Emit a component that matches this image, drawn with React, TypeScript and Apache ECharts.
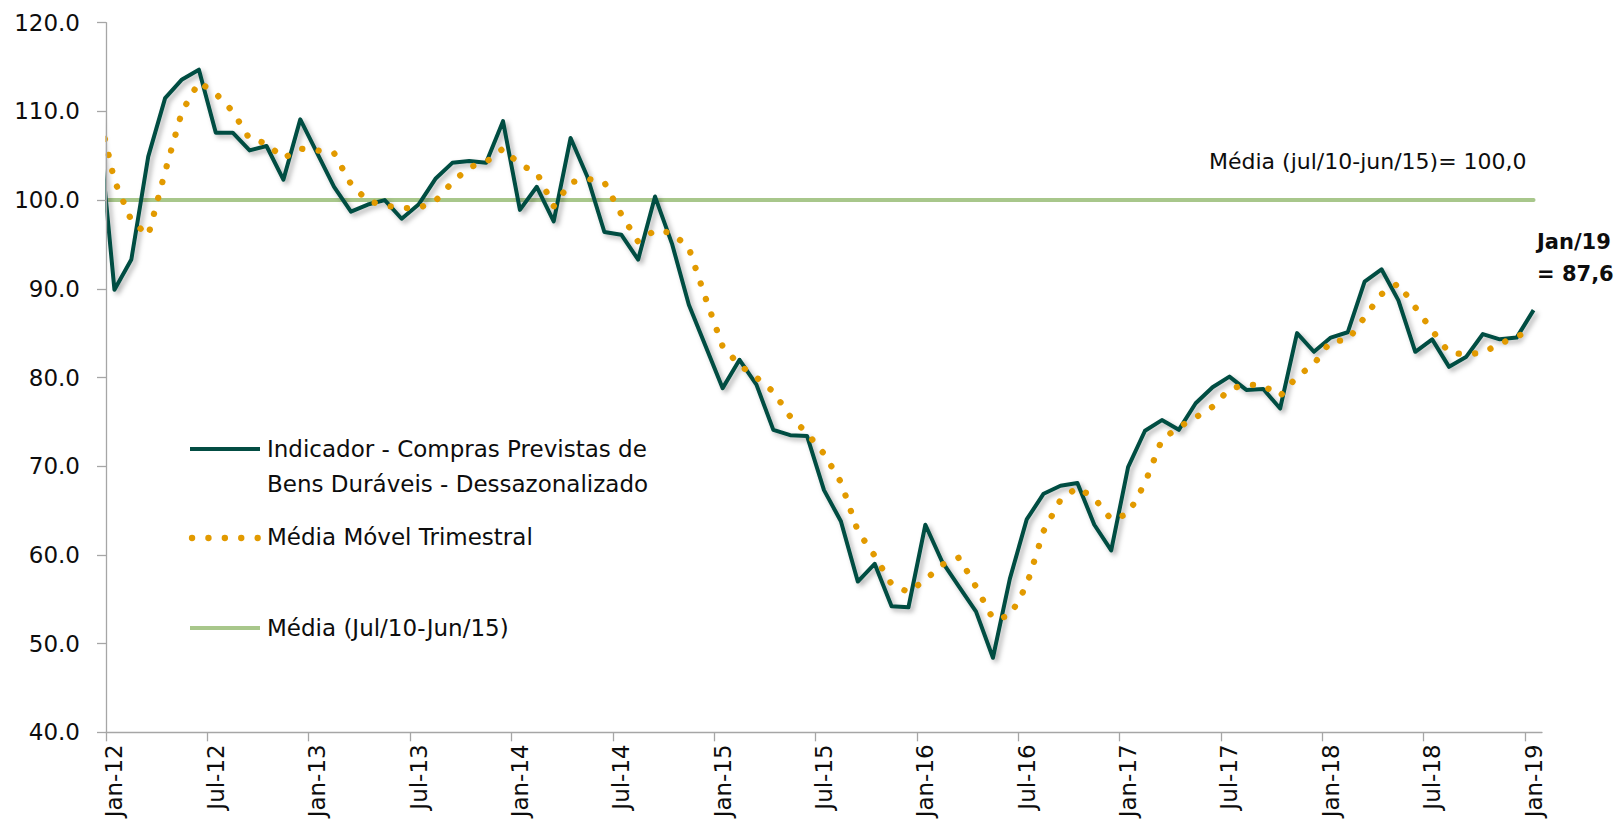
import React, { useEffect, useRef } from "react";
import * as echarts from "echarts";

// Months from Dec-11 (x = -1, outside the axis, clipped) to Jan-19 (x = 84)
const YEARS = ["12", "13", "14", "15", "16", "17", "18", "19"];
const MONTH_ABBR = ["Jan", "Feb", "Mar", "Apr", "May", "Jun", "Jul", "Aug", "Sep", "Oct", "Nov", "Dec"];
const CATEGORIES: string[] = [];
YEARS.forEach((y) => MONTH_ABBR.forEach((m) => CATEGORIES.push(`${m}-${y}`)));
CATEGORIES.length = 85; // Jan-12 .. Jan-19

const FIRST_X = -1; // Dec-11

const INDICATOR = [
  110.0, 89.9, 93.3, 104.9, 111.5, 113.6, 114.7, 107.6, 107.6, 105.6, 106.1, 102.3, 109.1,
  105.3, 101.5, 98.7, 99.5, 100.0, 97.9, 99.5, 102.4, 104.2, 104.4, 104.2, 108.9,
  98.9, 101.5, 97.6, 107.0, 102.6, 96.4, 96.1, 93.3, 100.4, 95.1, 88.2, 83.5,
  78.8, 82.0, 79.2, 74.1, 73.5, 73.4, 67.3, 63.8, 57.0, 59.0, 54.2, 54.1,
  63.4, 59.2, 56.4, 53.6, 48.4, 57.3, 64.0, 66.9, 67.8, 68.1, 63.4, 60.5,
  69.9, 74.0, 75.2, 74.1, 77.1, 78.9, 80.1, 78.6, 78.7, 76.5, 85.0, 82.9,
  84.5, 85.1, 90.8, 92.2, 88.7, 82.9, 84.3, 81.2, 82.3, 84.9, 84.3, 84.5,
  87.6,
];

const MOVING_AVG = [
  110.5, 102.2, 97.7, 96.0, 103.2, 110.0, 113.3, 112.0, 110.0, 106.9, 106.4, 104.7, 105.8,
  105.6, 105.3, 101.8, 99.9, 99.4, 99.1, 99.1, 99.9, 102.0, 103.7, 104.3, 105.8,
  104.0, 103.1, 99.3, 102.0, 102.4, 102.0, 98.4, 95.3, 96.6, 96.3, 94.6, 88.9,
  83.5, 81.4, 80.0, 78.4, 75.6, 73.7, 71.4, 68.2, 62.7, 59.9, 56.7, 55.8,
  57.2, 58.9, 59.7, 56.4, 52.8, 53.1, 56.6, 62.7, 66.2, 67.6, 66.4, 64.0,
  64.6, 68.1, 73.0, 74.4, 75.5, 76.7, 78.7, 79.2, 79.1, 77.9, 80.1, 81.5,
  84.1, 84.2, 86.8, 89.4, 90.6, 87.9, 85.3, 82.8, 82.6, 82.8, 83.8, 84.6,
  85.5,
];

const MEAN_LEVEL = 100.0;

const LABEL_POS = [0, 6, 12, 18, 24, 30, 36, 42, 48, 54, 60, 66, 72, 78, 84];
const TICK_POS = LABEL_POS.map((v) => v - 0.5);

const SERIES_NAMES = [
  "Indicador - Compras Previstas de Bens Duráveis - Dessazonalizado",
  "Média Móvel Trimestral",
  "Média (Jul/10-Jun/15)",
];

const DARK = "#034D43";
const ORANGE = "#E29A00";
const GREEN = "#A8C78B";
const AXIS = "#A6A6A6";
const TEXT = "#0D0D0D";
const FONT = "'DejaVu Sans', sans-serif";
const FS = 23;

export default function App() {
  const ref = useRef<HTMLDivElement>(null);

  useEffect(() => {
    if (!ref.current) return;
    const chart = echarts.init(ref.current, undefined, { renderer: "svg" });

    const toPairs = (arr: number[]) => arr.map((v, i) => [FIRST_X + i, v]);
    const meanPairs = INDICATOR.map((_, i) => [FIRST_X + i, MEAN_LEVEL]);

    const legendY = [449, 538, 628];
    const txt = (x: number, y: number, text: string, font: string) => ({
      type: "text",
      x,
      y,
      z: 20,
      style: { text, font, fill: TEXT, textVerticalAlign: "middle" },
    });

    chart.setOption({
      animation: false,
      backgroundColor: "#ffffff",
      textStyle: { fontFamily: FONT },
      grid: {
        left: 106,
        top: 22.7,
        width: 1436,
        height: 709.6,
        containLabel: false,
        outerBoundsMode: "none",
      },
      xAxis: {
        type: "value",
        min: -0.5,
        max: 84.5,
        z: 10,
        splitLine: { show: false },
        axisLine: { show: true, onZero: false, lineStyle: { color: AXIS, width: 1.3 } },
        axisTick: {
          show: true,
          length: 9,
          customValues: TICK_POS,
          lineStyle: { color: AXIS, width: 1.3 },
        },
        axisLabel: {
          customValues: LABEL_POS,
          rotate: 90,
          margin: 12,
          color: TEXT,
          fontSize: FS,
          fontFamily: FONT,
          formatter: (v: number) => CATEGORIES[Math.round(v)] ?? "",
        },
      },
      yAxis: {
        type: "value",
        min: 40,
        max: 120,
        interval: 10,
        z: 10,
        splitLine: { show: false },
        axisLine: { show: true, onZero: false, lineStyle: { color: AXIS, width: 1.3 } },
        axisTick: { show: true, length: 9, lineStyle: { color: AXIS, width: 1.3 } },
        axisLabel: {
          margin: 26,
          color: TEXT,
          fontSize: FS,
          fontFamily: FONT,
          formatter: (v: number) => v.toFixed(1),
        },
      },
      series: [
        {
          name: SERIES_NAMES[2],
          type: "line",
          data: meanPairs,
          showSymbol: false,
          symbol: "none",
          clip: true,
          lineStyle: { color: GREEN, width: 4, cap: "round" },
          z: 1,
        },
        {
          name: SERIES_NAMES[0],
          type: "line",
          data: toPairs(INDICATOR),
          showSymbol: false,
          symbol: "none",
          clip: true,
          lineStyle: {
            color: DARK,
            width: 4,
            join: "round",
            shadowColor: "rgba(0,0,0,0.3)",
            shadowBlur: 5,
            shadowOffsetX: 3,
            shadowOffsetY: 3,
          },
          z: 2,
        },
        {
          name: SERIES_NAMES[1],
          type: "line",
          data: toPairs(MOVING_AVG),
          showSymbol: false,
          symbol: "none",
          clip: true,
          lineStyle: { color: ORANGE, width: 6.3, type: [0.1, 16.3], cap: "round" },
          z: 3,
        },
      ],
      graphic: [
        // white mask hiding the clip-path overflow left of the y axis
        {
          type: "rect",
          z: 5,
          shape: { x: 88, y: 0, width: 17.4, height: 320 },
          style: { fill: "#ffffff" },
        },
        {
          type: "line",
          z: 20,
          shape: { x1: 190, y1: legendY[0], x2: 260, y2: legendY[0] },
          style: { stroke: DARK, lineWidth: 4 },
        },
        txt(267, 449, "Indicador - Compras Previstas de", `${FS}px ${FONT}`),
        txt(267, 484, "Bens Duráveis - Dessazonalizado", `${FS}px ${FONT}`),
        {
          type: "line",
          z: 20,
          shape: { x1: 192, y1: legendY[1], x2: 258, y2: legendY[1] },
          style: { stroke: ORANGE, lineWidth: 6.3, lineDash: [0.1, 16.3], lineCap: "round" },
        },
        txt(267, 537, SERIES_NAMES[1], `${FS}px ${FONT}`),
        {
          type: "line",
          z: 20,
          shape: { x1: 190, y1: legendY[2], x2: 260, y2: legendY[2] },
          style: { stroke: GREEN, lineWidth: 4 },
        },
        txt(267, 628, SERIES_NAMES[2], `${FS}px ${FONT}`),
        txt(1209, 161, "Média (jul/10-jun/15)= 100,0", `22px ${FONT}`),
        txt(1537, 242, "Jan/19", `bold 21px ${FONT}`),
        txt(1537, 274, "= 87,6", `bold 21px ${FONT}`),
      ],
    });

    return () => chart.dispose();
  }, []);

  return (
    <div
      ref={ref}
      style={{ position: "fixed", left: 0, top: 0, width: 1615, height: 828, background: "#fff" }}
    />
  );
}
